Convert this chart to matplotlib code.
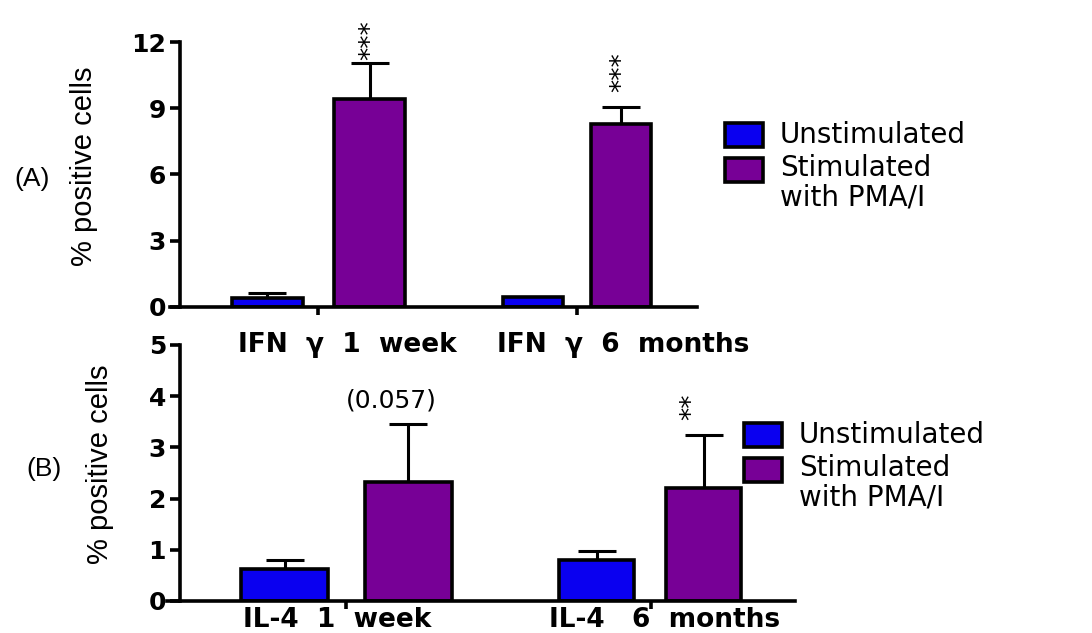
import matplotlib
matplotlib.use("Agg")
import matplotlib.pyplot as plt
from matplotlib.patches import Rectangle

# ---- data -------------------------------------------------------------
series_labels = ["Unstimulated", "Stimulated\nwith PMA/I"]

ifn_groups = ["IFN  γ  1  week", "IFN  γ  6  months"]
ifn_unstim = [0.40, 0.45]
ifn_unstim_err = [0.23, 0.0]
ifn_stim = [9.41, 8.28]
ifn_stim_err = [1.63, 0.77]
ifn_marks = ["***", "***"]
ifn_ticks = [0, 3, 6, 9, 12]

il4_groups = ["IL-4  1  week", "IL-4   6  months"]
il4_unstim = [0.63, 0.80]
il4_unstim_err = [0.17, 0.18]
il4_stim = [2.33, 2.21]
il4_stim_err = [1.13, 1.03]
il4_marks = ["(0.057)", "**"]
il4_ticks = [0, 1, 2, 3, 4, 5]

# ---- style ------------------------------------------------------------
BLUE = "#0a00f0"
PURPLE = "#770096"
W, H = 1092, 633
LW = 2.6

fig = plt.figure(figsize=(W / 100, H / 100), dpi=100)
fig.patch.set_facecolor("white")


def fx(px):
    return px / W


def fy(py):
    return 1 - py / H


def panel(left_px, right_px, top_px, bottom_px, yaxis_px, ymax, yticks,
          centers, offsets, widths, unstim, unstim_err, stim, stim_err,
          names, name_dx, name_dy, marks, mark_dx, mark_gap, mark_styles,
          tag, tag_xy, ylab_xy, legend_xy):
    ax = fig.add_axes([fx(left_px), fy(bottom_px),
                       fx(right_px) - fx(left_px), fy(top_px) - fy(bottom_px)])
    ax.set_xlim(left_px, right_px)
    ax.set_ylim(0, ymax)
    for i in range(len(centers)):
        for vals, errs, col, sgn in ((unstim, unstim_err, BLUE, -1),
                                     (stim, stim_err, PURPLE, 1)):
            x = centers[i] + sgn * offsets[i][0 if sgn < 0 else 1]
            ax.bar(x, vals[i], width=widths[i], color=col, edgecolor="black",
                   linewidth=LW, zorder=2)
            if errs[i] > 0:
                ax.errorbar(x, vals[i], yerr=[[0], [errs[i]]], fmt="none",
                            ecolor="black", elinewidth=2.2, capsize=14,
                            capthick=2.2, zorder=1)
        # significance annotation above the stimulated bar
        xs = centers[i] + offsets[i][1]
        top = stim[i] + stim_err[i]
        ax.annotate(marks[i], xy=(xs, top), xytext=(mark_dx[i], mark_gap[i]),
                    textcoords="offset points", annotation_clip=False,
                    **mark_styles[i])
        # category label beneath each group
        ax.annotate(names[i], xy=(centers[i], 0),
                    xytext=(name_dx[i], name_dy), textcoords="offset points",
                    ha="center", va="top", fontsize=19, fontweight="bold",
                    family="DejaVu Sans", annotation_clip=False)

    for s in ("top", "right"):
        ax.spines[s].set_visible(False)
    ax.spines["left"].set_position(("data", yaxis_px))
    ax.spines["left"].set_bounds(0, ymax)
    ax.spines["left"].set_linewidth(LW)
    ax.spines["bottom"].set_linewidth(LW)
    ax.set_yticks(yticks)
    ax.set_yticklabels([str(t) for t in yticks], fontsize=18,
                       fontweight="bold", family="DejaVu Sans")
    ax.set_xticks(centers)
    ax.set_xticklabels([])
    ax.tick_params(axis="y", direction="out", length=7, width=LW, pad=3)
    ax.tick_params(axis="x", direction="out", length=6, width=LW)
    ax.patch.set_alpha(0)

    fig.text(fx(tag_xy[0]), fy(tag_xy[1]), tag, fontsize=19,
             family="Liberation Sans", ha="center", va="center")
    fig.text(fx(ylab_xy[0]), fy(ylab_xy[1]), "% positive cells", fontsize=21,
             family="Liberation Sans", rotation=90, ha="center", va="center")

    # legend
    lx, ly = legend_xy
    for k, (lab, col) in enumerate(zip(series_labels, (BLUE, PURPLE))):
        y0 = ly + 35 * k
        fig.add_artist(Rectangle((fx(lx), fy(y0 + 24)), 38 / W, 24 / H,
                                 transform=fig.transFigure, facecolor=col,
                                 edgecolor="black", linewidth=LW))
        if k == 0:
            fig.text(fx(lx + 55), fy(y0 + 12), lab, fontsize=20,
                     family="DejaVu Sans", ha="left", va="center")
        else:
            fig.text(fx(lx + 55), fy(y0 - 4), lab, fontsize=20,
                     family="DejaVu Sans", ha="left", va="top",
                     linespacing=1.05)
    return ax


star = dict(rotation=90, ha="center", va="bottom", fontsize=19,
            family="DejaVu Sans")
pval = dict(ha="center", va="bottom", fontsize=18, family="DejaVu Sans")

panel(170, 697, 42, 307, 180, 12, ifn_ticks,
      centers=[318, 577], offsets=[(51, 51.5), (44, 44)], widths=[71, 60],
      unstim=ifn_unstim, unstim_err=ifn_unstim_err,
      stim=ifn_stim, stim_err=ifn_stim_err,
      names=ifn_groups, name_dx=[21, 33], name_dy=-18,
      marks=ifn_marks, mark_dx=[1, 1], mark_gap=[2, 11],
      mark_styles=[star, star],
      tag="(A)", tag_xy=(32, 179), ylab_xy=(84, 166),
      legend_xy=(725, 123))

panel(167, 795, 345, 601, 180, 5, il4_ticks,
      centers=[346, 651], offsets=[(61.5, 62), (54.5, 52.5)], widths=[87, 75],
      unstim=il4_unstim, unstim_err=il4_unstim_err,
      stim=il4_stim, stim_err=il4_stim_err,
      names=il4_groups, name_dx=[-6, 10], name_dy=-4,
      marks=il4_marks, mark_dx=[-12, -8], mark_gap=[8, 11],
      mark_styles=[pval, star],
      tag="(B)", tag_xy=(44, 469), ylab_xy=(100, 464),
      legend_xy=(744, 423))

fig.savefig("out.png", dpi=100, facecolor="white")
